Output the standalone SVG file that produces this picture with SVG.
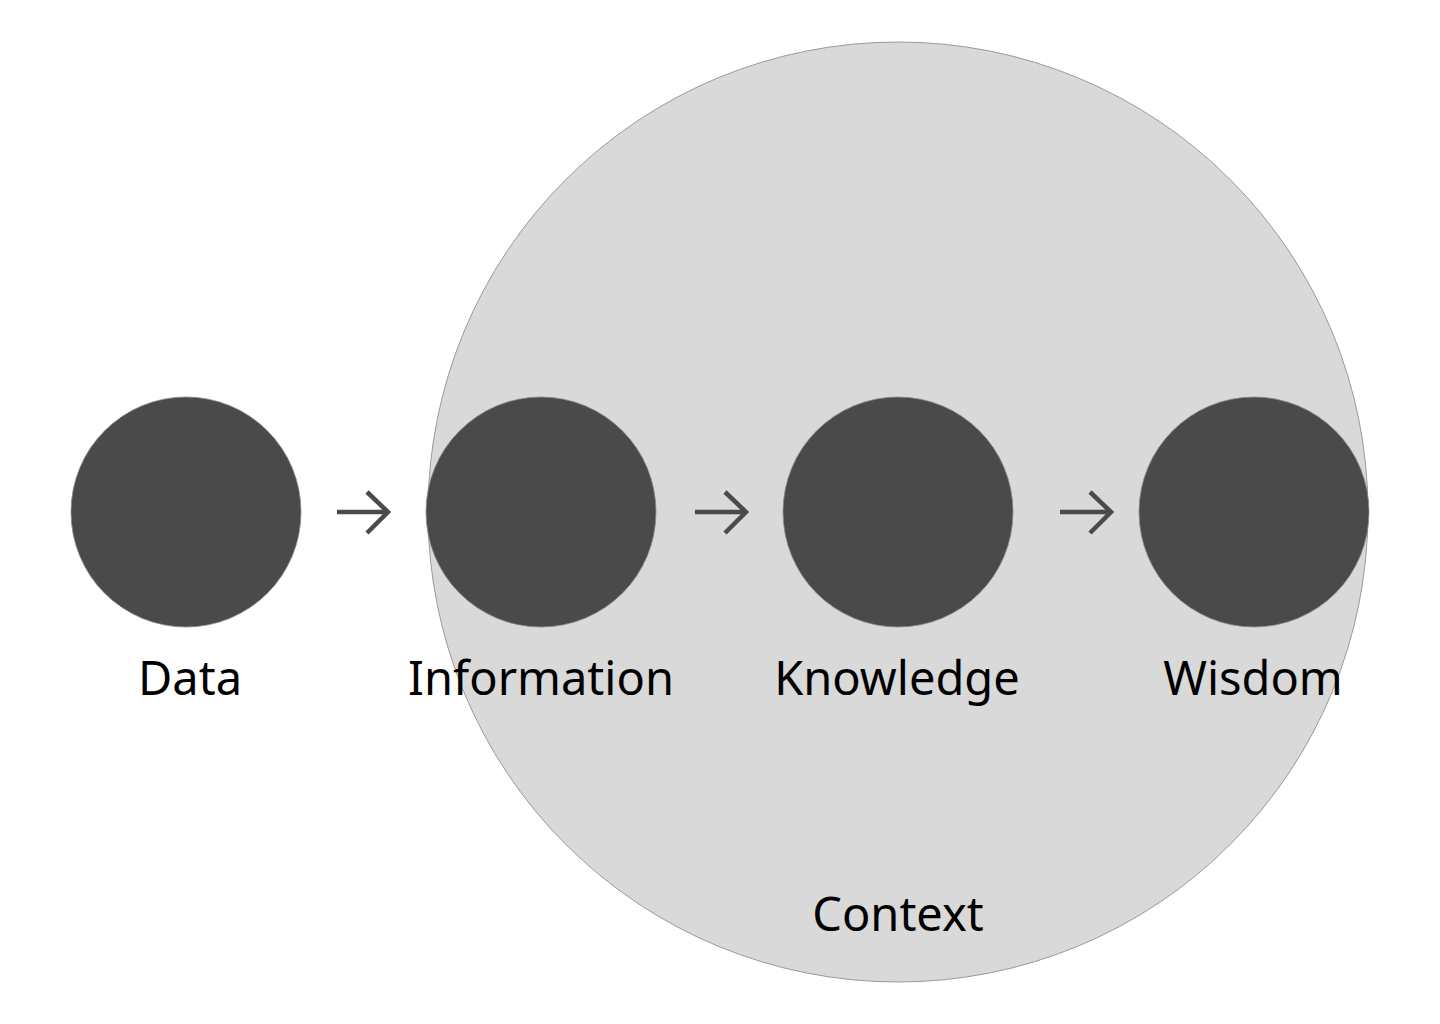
<svg xmlns="http://www.w3.org/2000/svg" width="1440" height="1024" viewBox="0 0 1440 1024">
<style>
.node{fill:#4a4a4a;stroke:#8a8a8a;stroke-width:0.8}
.lbl{font-family:"Noto Sans","Open Sans",sans-serif;font-size:47px;fill:#000;text-anchor:middle}
.arr{fill:none;stroke:#4a4a4a;stroke-width:4.5}
</style>
<rect width="1440" height="1024" fill="#fff"/>
<g id="context">
<circle cx="898" cy="512" r="470" fill="#d9d9d9" stroke="#9a9a9a" stroke-width="1"/>
<text class="lbl" x="898" y="931">Context</text>
</g>
<g id="data"><circle class="node" cx="186" cy="512" r="115"/><text class="lbl" x="190" y="695">Data</text></g>
<g id="information"><circle class="node" cx="541" cy="512" r="115"/><text class="lbl" x="541" y="695">Information</text></g>
<g id="knowledge"><circle class="node" cx="898" cy="512" r="115"/><text class="lbl" x="897" y="695">Knowledge</text></g>
<g id="wisdom"><circle class="node" cx="1254" cy="512" r="115"/><text class="lbl" x="1253" y="695">Wisdom</text></g>
<g id="connectors">
<path class="arr" d="M337 512H388M367 492L388 512L367 533"/>
<path class="arr" d="M695 512H746M725 492L746 512L725 533"/>
<path class="arr" d="M1060 512H1111M1090 492L1111 512L1090 533"/>
</g>
</svg>
